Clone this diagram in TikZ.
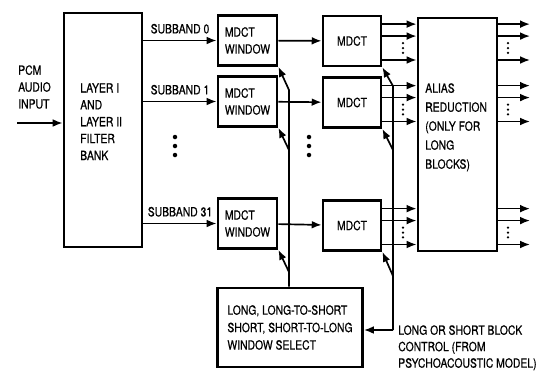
\documentclass[tikz,border=0pt]{standalone}
\usepackage{fontspec}
\newfontfamily\diagfont[FakeStretch=0.82, FakeBold=0.6]{TeX Gyre Heros}
\usepackage{tikz}
\usetikzlibrary{arrows.meta,positioning,calc}

\begin{document}
\begin{tikzpicture}[
    x=0.025cm, y=-0.025cm,
    font=\diagfont\fontsize{9}{12}\selectfont,
    block/.style={rectangle, draw, line width=2pt, inner sep=2pt, align=left},
    bankbox/.style={block, minimum width=1.95cm, minimum height=5.85cm},
    winbox/.style={block, minimum width=1.475cm, minimum height=1.25cm},
    mdctbox/.style={block, minimum width=1.45cm, minimum height=1.25cm},
    txt/.style={align=left, inner sep=0pt, anchor=north west},
    edge/.style={-{Latex[length=7pt,width=5.5pt]}, line width=1.2pt},
    wire/.style={line width=1.2pt}
]
\useasboundingbox (0,0) rectangle (546,371);

% blocks
\node[bankbox] (fb) at (103,130) {};
\node[txt] (fbtext) at (80,83) {LAYER I\\AND\\LAYER II\\FILTER\\BANK};
\node[winbox] (win0) at (247.5,40.5) {MDCT\\WINDOW};
\node[winbox] (win1) at (247.5,101.5) {MDCT\\WINDOW};
\node[winbox] (win31) at (247.5,223.5) {MDCT\\WINDOW};
\node[mdctbox] (mdct0) at (352,41) {MDCT};
\node[mdctbox] (mdct1) at (352,102.5) {MDCT};
\node[mdctbox] (mdct31) at (352,225.5) {MDCT};
\node[block, minimum width=1.975cm, minimum height=5.825cm] (alias) at (457.5,134.5) {};
\node[txt, font=\diagfont\fontsize{9}{13.5}\selectfont] (aliastext) at (425,83)
    {ALIAS\\REDUCTION\\(ONLY FOR\\LONG\\BLOCKS)};
\node[block, minimum width=3.625cm, minimum height=1.975cm, font=\diagfont\fontsize{9}{12.4}\selectfont] (sel) at (290,327.5)
    {LONG, LONG-TO-SHORT\\SHORT, SHORT-TO-LONG\\WINDOW SELECT};
\node[txt] (pcm) at (18,65) {PCM\\AUDIO\\INPUT};
\node[txt, font=\diagfont\fontsize{9}{11.7}\selectfont] (ctltext) at (398,325)
    {LONG OR SHORT BLOCK\\CONTROL (FROM\\PSYCHOACOUSTIC MODEL)};

\coordinate (pcmin) at (17,123);
\coordinate (sb0) at (289,90);
\coordinate (sb1) at (289,150);
\coordinate (sb31) at (289,272);
\coordinate (cb0) at (393,86);
\coordinate (cb1) at (393,150);
\coordinate (cb31) at (393,276);
\coordinate (ctl) at (393,330);
\coordinate (outx) at (530,0);

% signal path
\draw[edge] (pcmin) -- (pcmin -| fb.west);
\draw[edge] (fb.east |- win0.west) -- node[above=1pt] {SUBBAND 0} (win0.west);
\draw[edge] (fb.east |- win1.west) -- node[above=1pt] {SUBBAND 1} (win1.west);
\draw[edge] (fb.east |- win31.west) -- node[above=1pt] {SUBBAND 31} (win31.west);
\draw[edge] (win0) -- (mdct0);
\draw[edge] (win1) -- (mdct1);
\draw[edge] (win31) -- (mdct31);
\foreach \m in {mdct0,mdct1,mdct31} {
  \foreach \s in {12pt,3.5pt,-13.5pt} {
    \draw[edge] ([yshift=\s]\m.east) -- ([yshift=\s]alias.west |- \m.east);
    \draw[edge] ([yshift=\s]alias.east |- \m.east) -- ([yshift=\s]outx |- \m.east);
  }
  \foreach \d in {-1.5pt,-5pt,-8.5pt} {
    \fill ([yshift=\d]403,0 |- \m.east) circle (0.9pt);
    \fill ([yshift=\d]508,0 |- \m.east) circle (0.9pt);
  }
}
\foreach \yy in {137,146,155} {
  \fill (175,\yy) circle (1.6pt);
  \fill (309,\yy) circle (1.6pt);
}

% window select
\draw[edge] (sel.north -| sb0) -- (sb0) -- (win0.south east);
\draw[edge] (sb1) -- (win1.south east);
\draw[edge] (sb31) -- (win31.south east);

% block control
\draw[edge] (ctl) -- (cb0) -- (mdct0.south east);
\draw[edge] (cb1) -- (mdct1.south east);
\draw[edge] (cb31) -- (mdct31.south east);
\draw[edge] (ctl) -- (sel.east |- ctl);
\end{tikzpicture}
\end{document}
